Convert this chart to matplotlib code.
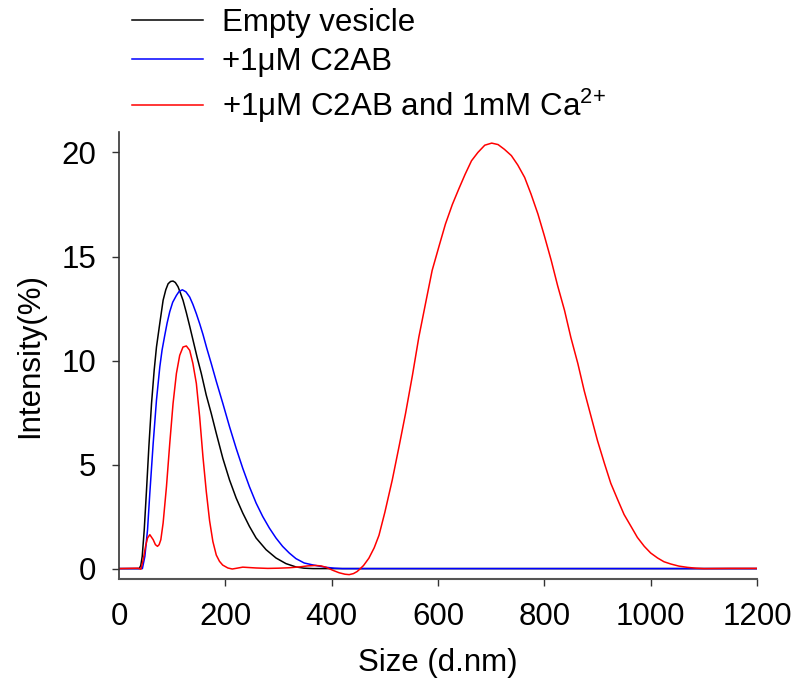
import matplotlib
matplotlib.use("Agg")
import matplotlib.pyplot as plt

plt.rcParams['font.family'] = ['Liberation Sans', 'DejaVu Sans']
plt.rcParams['mathtext.fontset'] = 'custom'
plt.rcParams['mathtext.rm'] = 'Liberation Sans'
plt.rcParams['mathtext.it'] = 'Liberation Sans:italic'
plt.rcParams['mathtext.bf'] = 'Liberation Sans:bold'

# Empty vesicle
black_x = [0, 38, 41, 43.7, 47.5, 51.8, 56.2, 61.2, 66.2, 70.5, 76.8, 83, 88, 92.4, 97,
           101.7, 106, 111, 115.5, 120.5, 126.7, 133, 140, 147, 154.8, 164, 173.5, 183,
           195.3, 207.9, 220.4, 232.8, 245.3, 257.9, 276.6, 295.3, 314, 332.8, 348, 365,
           600, 900, 1200]
black_y = [0, 0, 0.15, 0.59, 1.87, 3.79, 5.86, 7.94, 9.54, 10.65, 11.8, 12.9, 13.4, 13.69,
           13.8, 13.82, 13.75, 13.55, 13.25, 12.89, 12.3, 11.65, 10.9, 10.15, 9.38, 8.35,
           7.46, 6.5, 5.30, 4.26, 3.39, 2.67, 2.03, 1.47, 0.91, 0.51, 0.24, 0.08, 0.02, 0,
           0, 0, 0]

# +1uM C2AB
blue_x = [0, 44, 48.7, 53.7, 58, 64.3, 70.5, 76.8, 81, 86, 90.5, 95.5, 101, 108, 113,
          119.2, 126, 133, 139, 145.5, 152, 158, 165, 173.5, 183, 195.3, 207.9, 220.4,
          232.8, 245.3, 257.9, 270.2, 282.8, 295.3, 307.7, 320.2, 332.8, 348.3, 363.9,
          376.4, 390, 405, 420, 600, 900, 1200]
blue_y = [0, 0, 0.59, 1.87, 3.63, 6.02, 8.10, 9.70, 10.5, 11.2, 11.8, 12.35, 12.8, 13.13,
          13.32, 13.4, 13.3, 13.05, 12.7, 12.25, 11.75, 11.25, 10.6, 9.86, 9.0, 7.94, 6.82,
          5.78, 4.82, 3.94, 3.15, 2.51, 1.95, 1.47, 1.07, 0.75, 0.48, 0.27, 0.18, 0.12,
          0.06, 0.02, 0, 0, 0, 0]

# +1uM C2AB and 1mM Ca2+
red_x = [0, 36, 41.2, 45.5, 50, 53.7, 58, 64.3, 68.5, 72.4, 75.5, 78.7, 83, 89.3, 95.5,
         101.7, 108, 114.2, 120.4, 126.7, 133, 139, 145.5, 151.7, 157.9, 164.2, 170.4,
         176.6, 183, 189, 195, 204.7, 213, 222, 232.8, 245, 257.9, 280, 300, 320, 339,
         355, 370, 380, 390, 402, 414, 425, 433, 441, 448, 454, 460, 470, 480, 489, 500,
         514, 527, 539, 552, 564, 577, 589, 602, 614, 627, 639, 651, 663, 675, 688, 701,
         713, 725, 738, 750, 763, 775, 788, 800, 813, 825, 838, 850, 863, 875, 888, 900,
         913, 925, 938, 950, 963, 975, 988, 1000, 1013, 1025, 1038, 1053, 1069, 1085,
         1100, 1150, 1200]
red_y = [0, 0.02, -0.03, 0.43, 1.07, 1.47, 1.63, 1.39, 1.15, 1.07, 1.15, 1.39, 2.19, 3.94,
         6.02, 7.94, 9.38, 10.25, 10.65, 10.70, 10.49, 9.86, 8.9, 7.3, 5.38, 3.7, 2.3, 1.3,
         0.65, 0.35, 0.17, 0.03, -0.02, 0.02, 0.07, 0.05, 0.03, 0.01, 0.02, 0.04, 0.08,
         0.13, 0.15, 0.13, 0.06, -0.08, -0.2, -0.27, -0.29, -0.24, -0.14, 0.0, 0.15, 0.5,
         1.0, 1.6, 2.7, 4.26, 5.9, 7.46, 9.3, 11.13, 12.8, 14.33, 15.5, 16.56, 17.5, 18.24,
         18.95, 19.60, 20.0, 20.35, 20.45, 20.38, 20.15, 19.85, 19.4, 18.8, 18.0, 17.04,
         16.0, 14.81, 13.6, 12.41, 11.1, 9.86, 8.55, 7.30, 6.15, 5.06, 4.1, 3.31, 2.6,
         2.03, 1.5, 1.07, 0.75, 0.51, 0.33, 0.22, 0.12, 0.06, 0.02, 0.0, 0.01, 0.01]

labels = ['Empty vesicle', '+1\u03bcM C2AB', '+1\u03bcM C2AB and 1mM Ca$^{2{+}}$']
colors = ['black', '#0000ff', '#ff0000']
x_ticks = [0, 200, 400, 600, 800, 1000, 1200]
y_ticks = [0, 5, 10, 15, 20]

FS = 22.5

fig = plt.figure(figsize=(7.97, 6.93), dpi=100)
ax = fig.add_axes([0.1493, 0.1645, 0.8005, 0.6455])

l1, = ax.plot(black_x, black_y, color=colors[0], lw=1.1)
l2, = ax.plot(blue_x, blue_y, color=colors[1], lw=1.1)
l3, = ax.plot(red_x, red_y, color=colors[2], lw=1.1)

ax.set_xlim(0, 1200)
ax.set_ylim(-0.5, 21)
ax.set_xticks(x_ticks)
ax.set_yticks(y_ticks)
ax.xaxis.get_major_ticks()[0].tick1line.set_visible(False)

ax.spines['top'].set_visible(False)
ax.spines['right'].set_visible(False)
ax.spines['left'].set_color('#333333')
ax.spines['left'].set_linewidth(1.2)
ax.spines['bottom'].set_color('#555555')
ax.spines['bottom'].set_linewidth(1.5)
ax.tick_params(direction='out', length=4.7, width=1.0, color='#333333',
               labelsize=FS, pad=11.5)

ax.set_xlabel('Size (d.nm)', fontsize=FS, labelpad=12)
ax.set_ylabel('Intensity(%)', fontsize=FS, labelpad=12)

leg = fig.legend([l1, l2, l3], labels, loc='upper left',
                 bbox_to_anchor=(132 / 797, 1 - 8 / 693),
                 frameon=False, fontsize=FS, handlelength=2.27, handletextpad=0.6,
                 labelspacing=0.3, borderpad=0, borderaxespad=0)

fig.savefig('out.png', dpi=100)
